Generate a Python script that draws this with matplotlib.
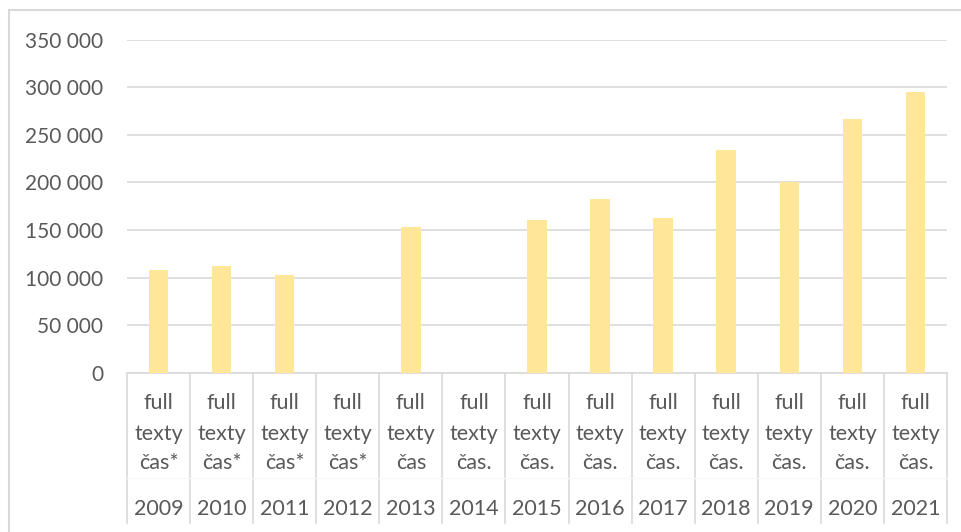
import matplotlib.pyplot as plt
from matplotlib.patches import Rectangle

# hodnoty
roky = ["2009", "2010", "2011", "2012", "2013", "2014", "2015",
        "2016", "2017", "2018", "2019", "2020", "2021"]
popisky = ["full\ntexty\nčas*", "full\ntexty\nčas*", "full\ntexty\nčas*", "full\ntexty\nčas*",
           "full\ntexty\nčas", "full\ntexty\nčas.", "full\ntexty\nčas.", "full\ntexty\nčas.",
           "full\ntexty\nčas.", "full\ntexty\nčas.", "full\ntexty\nčas.", "full\ntexty\nčas.",
           "full\ntexty\nčas."]
hodnoty = [108200, 112400, 103300, 0, 153400, 0, 160700,
           182800, 162800, 234200, 200300, 266800, 295200]
osa_y = [0, 50000, 100000, 150000, 200000, 250000, 300000, 350000]

plt.rcParams["font.family"] = ["Lato", "DejaVu Sans"]
sedy_text = "#595959"
sedy_cara = "#d9d9d9"

W, H = 962, 532
fig = plt.figure(figsize=(W / 100, H / 100), dpi=100)

# ramecek grafu
fig.patches.append(Rectangle((9 / W, -0.1), 1.2, 1 - 10 / H + 0.1, transform=fig.transFigure,
                             fill=False, edgecolor=sedy_cara, linewidth=1.5))

ax = fig.add_axes([127 / W, 1 - 373 / H, (947 - 127) / W, (373 - 39.5) / H])
x = list(range(len(roky)))
ax.bar(x, hodnoty, width=0.31, color="#FFE699", zorder=3)

ax.set_xlim(-0.5, len(roky) - 0.5)
ax.set_ylim(0, 350000)
ax.set_yticks(osa_y)
ax.set_yticklabels([f"{v:,}".replace(",", " ") for v in osa_y])
ax.tick_params(axis="y", length=0, pad=17, labelsize=15, labelcolor=sedy_text)
ax.set_xticks([])
ax.grid(axis="y", color=sedy_cara, linewidth=1.2, zorder=0)
for s in ["left", "right", "top"]:
    ax.spines[s].set_visible(False)
ax.spines["bottom"].set_color(sedy_cara)
ax.spines["bottom"].set_linewidth(1.2)

# viceurovnova osa kategorii
vys = 373 - 39.5
tr = ax.get_xaxis_transform()
for i in range(len(roky) + 1):
    ax.plot([i - 0.5, i - 0.5], [0, -(523 - 373) / vys], transform=tr,
            color=sedy_cara, linewidth=1.2, clip_on=False)
ax.plot([-0.5, len(roky) - 0.5], [-(478 - 373) / vys] * 2, transform=tr,
        color="#f8f8f8", linewidth=1, clip_on=False)

for i, (rok, pop) in enumerate(zip(roky, popisky)):
    for j, radek in enumerate(pop.split("\n")):
        y = [403, 434, 463][j]
        ax.text(i, -(y - 373) / vys, radek, transform=tr, ha="center", va="center",
                fontsize=15.5, color=sedy_text)
    ax.text(i, -(509 - 373) / vys, rok, transform=tr, ha="center", va="center",
            fontsize=15.5, color=sedy_text)

fig.savefig("out.png", dpi=100)
